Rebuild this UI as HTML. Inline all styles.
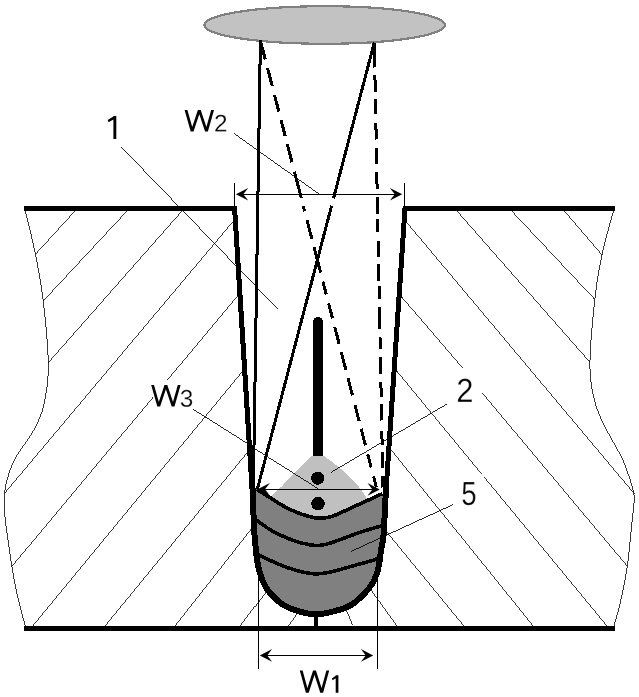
<!DOCTYPE html>
<html><head><meta charset="utf-8"><title>Figure</title>
<style>
html,body{margin:0;padding:0;background:#fff;}
svg{display:block;}
text{font-family:"Liberation Sans",sans-serif;fill:#000;}
.t{stroke:#fff;stroke-width:0.35px;}
</style></head>
<body>
<svg width="639" height="697" viewBox="0 0 639 697" shape-rendering="crispEdges">
<title>Narrow-gap welding groove with laser beam widths W1, W2, W3</title>
<desc>Labels: 1, W2, W3, 2, 5, W1</desc>
<rect width="639" height="697" fill="#fff"/>
<!-- hatching -->
<g stroke="#000" stroke-width="0.78" fill="none" shape-rendering="crispEdges">
<line x1="75.0" y1="211.0" x2="35.4" y2="254.3"/>
<line x1="127.0" y1="211.0" x2="43.2" y2="301.0"/>
<line x1="182.0" y1="211.0" x2="48.3" y2="362.6"/>
<line x1="232.6" y1="222.0" x2="4.8" y2="493.0"/>
<line x1="237.3" y1="296.3" x2="167.4" y2="380.0"/>
<line x1="153.3" y1="397.0" x2="11.4" y2="567.0"/>
<line x1="242.0" y1="372.0" x2="32.7" y2="626.0"/>
<line x1="248.0" y1="451.7" x2="105.0" y2="626.0"/>
<line x1="252.6" y1="527.4" x2="175.0" y2="626.0"/>
<line x1="265.9" y1="591.5" x2="240.0" y2="626.0"/>
<line x1="297.2" y1="613.8" x2="288.5" y2="626.0"/>
<line x1="564.4" y1="211.0" x2="602.0" y2="254.9"/>
<line x1="511.7" y1="211.0" x2="594.8" y2="299.4"/>
<line x1="457.0" y1="211.0" x2="590.0" y2="362.3"/>
<line x1="405.0" y1="220.4" x2="634.5" y2="494.0"/>
<line x1="401.0" y1="296.2" x2="463.0" y2="368.4"/>
<line x1="482.0" y1="392.7" x2="627.3" y2="566.2"/>
<line x1="396.2" y1="370.4" x2="481.9" y2="474.3"/>
<line x1="484.4" y1="477.4" x2="607.0" y2="626.0"/>
<line x1="391.0" y1="449.7" x2="533.2" y2="626.0"/>
<line x1="384.9" y1="529.7" x2="463.9" y2="626.0"/>
<line x1="371.0" y1="590.0" x2="397.0" y2="626.0"/>
<line x1="346.4" y1="610.2" x2="352.7" y2="625.2"/>
<path d="M24.6 208.0 C26.4 215.7 32.3 238.8 35.4 254.3 C38.5 269.8 41.1 282.9 43.2 301.0 C45.4 319.1 48.0 346.1 48.3 362.6 C48.6 379.1 46.8 389.6 44.8 400.0 C42.8 410.4 40.0 417.5 36.5 425.0 C33.0 432.5 27.5 439.5 24.0 445.0 C20.5 450.5 17.9 453.0 15.3 458.0 C12.7 463.0 10.2 469.5 8.5 475.0 C6.8 480.5 5.5 486.0 4.8 491.0 C4.1 496.0 4.1 499.8 4.2 505.0 C4.3 510.2 4.8 515.7 5.5 522.0 C6.2 528.3 7.4 535.5 8.5 543.0 C9.6 550.5 10.5 558.2 12.0 567.0 C13.5 575.8 15.2 586.0 17.5 596.0 C19.8 606.0 24.2 621.8 25.5 627.0"/>
<path d="M614.3 208.0 C612.2 215.8 605.2 239.7 602.0 254.9 C598.8 270.1 596.8 281.9 594.8 299.4 C592.8 316.9 590.3 344.4 590.0 360.0 C589.7 375.6 590.8 382.5 592.8 392.7 C594.8 402.9 596.9 409.6 602.0 421.0 C607.1 432.4 618.0 449.1 623.2 460.8 C628.4 472.5 631.5 484.2 633.3 491.2 C635.1 498.2 634.2 497.9 634.0 503.0 C633.8 508.1 633.1 511.1 632.0 521.6 C630.9 532.1 629.2 552.5 627.3 566.0 C625.3 579.5 622.6 592.4 620.3 602.7 C618.0 613.0 614.5 623.8 613.4 628.0"/>
</g>
<!-- laser source -->
<ellipse cx="324.6" cy="25" rx="120.3" ry="18.8" fill="#c2c2c2" stroke="#808080" stroke-width="2.2"/>
<!-- extension lines -->
<g stroke="#000" stroke-width="1" fill="none" shape-rendering="crispEdges">
<line x1="234.5" y1="183" x2="234.5" y2="208"/>
<line x1="404.2" y1="183" x2="404.2" y2="208"/>
<line x1="258.5" y1="560" x2="258.5" y2="668.5"/>
<line x1="377.2" y1="560" x2="377.2" y2="668.5"/>
</g>
<!-- molten pool and beads -->
<path d="M311.8 455.5 L323.4 455.5 C335 464 358 480 368.5 501.5 L358 504.8 L343.7 511.4 L335.5 515 L328.5 517.2 L321.5 518.2 L315 517.8 L307.5 516 L296.9 512.4 L287.6 508.2 L278.2 503 L268.8 496.9 L272.5 495 C283 486 299 468 311.8 455.5 Z" fill="#c0c0c0"/>
<path d="M256.8 489.5 C257.7 490.0 260.0 491.4 262.0 492.6 C264.0 493.8 266.1 495.2 268.8 496.9 C271.5 498.6 275.1 501.1 278.2 503.0 C281.3 504.9 284.5 506.6 287.6 508.2 C290.7 509.8 293.6 511.1 296.9 512.4 C300.2 513.7 304.5 515.1 307.5 516.0 C310.5 516.9 312.7 517.4 315.0 517.8 C317.3 518.2 319.2 518.3 321.5 518.2 C323.8 518.1 326.2 517.7 328.5 517.2 C330.8 516.7 333.0 516.0 335.5 515.0 C338.0 514.0 339.9 513.1 343.7 511.4 C347.4 509.7 353.2 507.0 358.0 504.8 C362.8 502.6 368.2 500.2 372.3 498.3 C376.4 496.4 380.8 494.4 382.5 493.6 L386.2 484.0 C386.1 486.7 385.6 495.3 385.4 500.0 C385.1 504.7 384.9 507.0 384.7 512.0 C384.5 517.0 384.4 525.0 384.0 530.0 C383.6 535.0 383.1 538.7 382.6 542.0 C382.1 545.3 381.5 546.8 381.0 550.0 C380.5 553.2 380.2 557.4 379.6 561.0 C379.0 564.6 378.5 568.2 377.4 571.9 C376.2 575.5 374.9 579.2 372.7 582.9 C370.5 586.5 367.8 590.1 364.2 593.8 C360.6 597.4 356.2 601.9 351.4 604.8 C346.5 607.7 341.0 609.4 335.1 611.0 C329.2 612.6 322.1 614.2 316.0 614.3 C309.9 614.3 304.1 612.9 298.6 611.3 C293.2 609.7 288.0 607.7 283.3 604.8 C278.6 601.9 274.0 597.4 270.7 593.8 C267.4 590.1 265.3 586.5 263.5 582.9 C261.7 579.2 260.8 575.5 259.7 571.9 C258.6 568.2 257.8 564.6 257.2 561.0 C256.6 557.4 256.5 556.0 255.9 550.0 C255.3 544.0 254.2 533.3 253.8 525.0 C253.4 516.7 253.5 506.8 253.2 500.0 C252.9 493.2 252.4 486.7 252.2 484.0 Z" fill="#808080"/>
<g stroke="#000" stroke-width="3.6" fill="none" stroke-linecap="butt">
<path d="M256.8 489.5 C257.7 490.0 260.0 491.4 262.0 492.6 C264.0 493.8 266.1 495.2 268.8 496.9 C271.5 498.6 275.1 501.1 278.2 503.0 C281.3 504.9 284.5 506.6 287.6 508.2 C290.7 509.8 293.6 511.1 296.9 512.4 C300.2 513.7 304.5 515.1 307.5 516.0 C310.5 516.9 312.7 517.4 315.0 517.8 C317.3 518.2 319.2 518.3 321.5 518.2 C323.8 518.1 326.2 517.7 328.5 517.2 C330.8 516.7 333.0 516.0 335.5 515.0 C338.0 514.0 339.9 513.1 343.7 511.4 C347.4 509.7 353.2 507.0 358.0 504.8 C362.8 502.6 368.2 500.2 372.3 498.3 C376.4 496.4 380.8 494.4 382.5 493.6"/>
<path d="M254.3 518.6 C255.6 519.5 259.1 522.2 262.0 524.2 C264.9 526.2 268.6 528.9 271.9 530.8 C275.2 532.7 278.4 534.1 282.0 535.8 C285.6 537.4 289.8 539.3 293.8 540.7 C297.8 542.1 302.6 543.2 306.0 544.0 C309.4 544.8 311.7 545.1 314.0 545.3 C316.3 545.5 317.4 545.7 320.0 545.4 C322.6 545.1 325.4 544.6 329.3 543.4 C333.2 542.2 338.9 540.0 343.7 538.3 C348.5 536.6 353.2 534.6 358.0 533.0 C362.8 531.4 368.1 529.8 372.3 528.5 C376.6 527.2 381.6 525.8 383.5 525.3"/>
<path d="M257.2 554.3 C259.9 555.6 268.6 559.8 273.7 562.0 C278.8 564.2 283.2 566.1 288.0 567.8 C292.8 569.5 297.6 571.0 302.3 572.0 C307.0 573.0 311.5 573.9 316.0 573.9 C320.5 573.9 324.7 573.1 329.3 572.2 C333.9 571.3 338.9 569.8 343.7 568.5 C348.5 567.2 353.2 565.8 358.0 564.5 C362.8 563.2 369.0 561.5 372.3 560.5 C375.6 559.5 377.1 558.8 378.0 558.5"/>
</g>
<!-- plate surfaces -->
<g stroke="#000" stroke-width="5" fill="none">
<line x1="24" y1="208.5" x2="237" y2="208.5"/>
<line x1="402.5" y1="208.5" x2="615" y2="208.5"/>
<line x1="24" y1="628.3" x2="615" y2="628.3"/>
</g>
<!-- groove wall -->
<path d="M234.6 208.5 L252.8 500 M385.4 500 L405 208.5" fill="none" stroke="#000" stroke-width="5"/>
<path d="M252.2 484.0 C252.4 486.7 252.9 493.2 253.2 500.0 C253.5 506.8 253.4 516.7 253.8 525.0 C254.2 533.3 255.3 544.0 255.9 550.0 C256.5 556.0 256.6 557.4 257.2 561.0 C257.8 564.6 258.6 568.2 259.7 571.9 C260.8 575.5 261.7 579.2 263.5 582.9 C265.3 586.5 267.4 590.1 270.7 593.8 C274.0 597.4 278.6 601.9 283.3 604.8 C288.0 607.7 293.2 609.7 298.6 611.3 C304.1 612.9 309.9 614.3 316.0 614.3 C322.1 614.2 329.2 612.6 335.1 611.0 C341.0 609.4 346.5 607.7 351.4 604.8 C356.2 601.9 360.6 597.4 364.2 593.8 C367.8 590.1 370.5 586.5 372.7 582.9 C374.9 579.2 376.2 575.5 377.4 571.9 C378.5 568.2 379.0 564.6 379.6 561.0 C380.2 557.4 380.5 553.2 381.0 550.0 C381.5 546.8 382.1 545.3 382.6 542.0 C383.1 538.7 383.6 535.0 384.0 530.0 C384.4 525.0 384.5 517.0 384.7 512.0 C384.9 507.0 385.1 504.7 385.4 500.0 C385.6 495.3 386.1 486.7 386.2 484.0" fill="none" stroke="#000" stroke-width="6"/>
<line x1="315.5" y1="613" x2="315.5" y2="627" stroke="#000" stroke-width="4"/>
<!-- wire -->
<path d="M313 456.3 L313 322 A5 5 0 0 1 323 322 L323 456.3 Z" fill="#000"/>
<circle cx="317.7" cy="478.2" r="6.6" fill="#000"/>
<circle cx="318" cy="503.7" r="6.8" fill="#000"/>
<!-- beams -->
<g stroke="#000" stroke-width="3" fill="none">
<line x1="260.4" y1="40.5" x2="253.3" y2="490"/>
<path d="M374.3 42.5 L333.5 198.3 M331.6 205.7 L257.4 489"/>
<path d="M260.4 40.5 L265.3 59.5 M267.6 68.1 L272.2 86.0 M274.5 95.0 L278.8 111.5 M281.1 120.2 L285.2 136.0 M287.3 144.2 L292.0 162.3 M294.4 171.6 L301.3 198.0 M303.3 206.0 L304.7 211.3 M307.0 220.2 L311.9 238.9 M314.1 247.3 L320.6 272.5 M322.9 281.5 L326.3 294.4 M328.6 303.4 L332.5 318.4 M334.8 327.1 L339.1 343.7 M341.2 352.0 L345.8 369.7 M348.0 378.1 L352.5 395.5 M355.0 405.0 L359.1 421.0 M361.1 428.8 L365.5 445.5 M367.7 454.2 L371.2 467.4 M373.5 476.3 L376.4 487.5"/>
<path d="M374.3 42.6 L374.8 67.5 M374.9 75.3 L375.3 91.7 M375.4 99.4 L375.7 114.0 M375.9 122.6 L376.2 139.5 M376.4 148.0 L376.7 163.6 M376.8 172.2 L377.1 188.7 M377.3 197.3 L377.6 214.4 M377.7 219.0 L378.0 231.7 M378.2 241.0 L378.5 257.0 M378.6 263.8 L378.9 281.0 M379.0 285.6 L379.3 299.0 M379.5 306.9 L379.9 328.6 M380.0 337.0 L380.3 348.6 M380.4 357.1 L380.8 373.7 M380.9 382.4 L381.2 397.2 M381.3 404.1 L381.7 420.5 M381.9 430.8 L382.1 444.6 M382.3 452.3 L382.6 467.8 M382.8 476.4 L383.0 487.5"/>
</g>
<!-- dimension arrows -->
<g stroke="#000" stroke-width="1.3" fill="none">
<line x1="240" y1="194.2" x2="400" y2="194.2"/>
<line x1="260" y1="489.6" x2="377" y2="489.6"/>
<line x1="263" y1="655.4" x2="370" y2="655.4"/>
</g>
<g fill="#000" shape-rendering="geometricPrecision">
<path d="M235.9 194.2 L248.2 187.9 L243.3 194.2 L248.2 200.5 Z"/><path d="M402.2 194.3 L389.9 188.0 L394.8 194.3 L389.9 200.6 Z"/>
<path d="M257.6 489.3 L269.9 483.0 L265.0 489.3 L269.9 495.6 Z"/><path d="M379.8 489.4 L367.5 483.1 L372.4 489.4 L367.5 495.7 Z"/>
<path d="M259.8 655.4 L272.1 649.1 L267.2 655.4 L272.1 661.7 Z"/><path d="M373.2 655.4 L360.9 649.1 L365.8 655.4 L360.9 661.7 Z"/>
</g>
<!-- leaders -->
<g stroke="#000" stroke-width="0.85" fill="none" shape-rendering="crispEdges">
<line x1="121.3" y1="147" x2="278" y2="309.3"/>
<line x1="233.8" y1="133.3" x2="319.5" y2="194.4"/>
<line x1="192.5" y1="409.5" x2="318" y2="488.6"/>
<line x1="446.9" y1="404" x2="331" y2="472.4"/>
<line x1="453" y1="504.6" x2="351.4" y2="551.3"/>
</g>
<!-- labels -->
<g shape-rendering="geometricPrecision">
<path d="M113.4 116 L116.3 116 L116.3 138.9 L113.4 138.9 L113.4 119.4 L108.6 122.2 L107.7 119.9 L113.4 116.6 Z" fill="#000"/>
<path d="M184.60 110.00 L187.40 110.00 L193.50 131.40 L190.70 131.40 Z M197.88 110.00 L200.72 110.00 L193.52 131.40 L190.68 131.40 Z M197.88 110.00 L200.72 110.00 L207.92 131.40 L205.08 131.40 Z M211.20 110.00 L214.00 110.00 L207.90 131.40 L205.10 131.40 Z" fill="#000"/><path transform="translate(214.00 131.60) scale(0.01187 -0.01187)" d="M103 0V127Q154 244 228 334Q301 423 382 496Q463 568 542 630Q622 692 686 754Q750 816 790 884Q829 952 829 1038Q829 1154 761 1218Q693 1282 572 1282Q457 1282 382 1220Q308 1157 295 1044L111 1061Q131 1230 254 1330Q378 1430 572 1430Q785 1430 900 1330Q1014 1229 1014 1044Q1014 962 976 881Q939 800 865 719Q791 638 582 468Q467 374 399 298Q331 223 301 153H1036V0Z" fill="#000" stroke="#fff" stroke-width="0.35" vector-effect="non-scaling-stroke"/>
<path d="M151.20 385.00 L154.00 385.00 L160.10 406.40 L157.30 406.40 Z M164.48 385.00 L167.32 385.00 L160.12 406.40 L157.28 406.40 Z M164.48 385.00 L167.32 385.00 L174.52 406.40 L171.68 406.40 Z M177.80 385.00 L180.60 385.00 L174.50 406.40 L171.70 406.40 Z" fill="#000"/><path transform="translate(179.80 406.80) scale(0.01187 -0.01187)" d="M1049 389Q1049 194 925 87Q801 -20 571 -20Q357 -20 230 76Q102 173 78 362L264 379Q300 129 571 129Q707 129 784 196Q862 263 862 395Q862 510 774 574Q685 639 518 639H416V795H514Q662 795 744 860Q825 924 825 1038Q825 1151 758 1216Q692 1282 561 1282Q442 1282 368 1221Q295 1160 283 1049L102 1063Q122 1236 246 1333Q369 1430 563 1430Q775 1430 892 1332Q1010 1233 1010 1057Q1010 922 934 838Q859 753 715 723V719Q873 702 961 613Q1049 524 1049 389Z" fill="#000" stroke="#fff" stroke-width="0.35" vector-effect="non-scaling-stroke"/>
<path transform="translate(456.30 401.90) scale(0.01505 -0.01636)" d="M103 0V127Q154 244 228 334Q301 423 382 496Q463 568 542 630Q622 692 686 754Q750 816 790 884Q829 952 829 1038Q829 1154 761 1218Q693 1282 572 1282Q457 1282 382 1220Q308 1157 295 1044L111 1061Q131 1230 254 1330Q378 1430 572 1430Q785 1430 900 1330Q1014 1229 1014 1044Q1014 962 976 881Q939 800 865 719Q791 638 582 468Q467 374 399 298Q331 223 301 153H1036V0Z" fill="#000" stroke="#fff" stroke-width="0.35" vector-effect="non-scaling-stroke"/>
<path transform="translate(461.30 505.00) scale(0.01345 -0.01641)" d="M1053 459Q1053 236 920 108Q788 -20 553 -20Q356 -20 235 66Q114 152 82 315L264 336Q321 127 557 127Q702 127 784 214Q866 302 866 455Q866 588 784 670Q701 752 561 752Q488 752 425 729Q362 706 299 651H123L170 1409H971V1256H334L307 809Q424 899 598 899Q806 899 930 777Q1053 655 1053 459Z" fill="#000" stroke="#fff" stroke-width="0.35" vector-effect="non-scaling-stroke"/>
<path d="M299.80 670.50 L302.60 670.50 L308.70 692.80 L305.90 692.80 Z M313.08 670.50 L315.92 670.50 L308.72 692.80 L305.88 692.80 Z M313.08 670.50 L315.92 670.50 L323.12 692.80 L320.28 692.80 Z M326.40 670.50 L329.20 670.50 L323.10 692.80 L320.30 692.80 Z" fill="#000"/>
<path d="M335.7 675.2 L338.4 675.2 L338.4 692.8 L335.7 692.8 L335.7 678.2 L332.6 680.3 L331.9 678.4 L335.7 675.8 Z" fill="#000"/>
</g>
</svg>
</body></html>
